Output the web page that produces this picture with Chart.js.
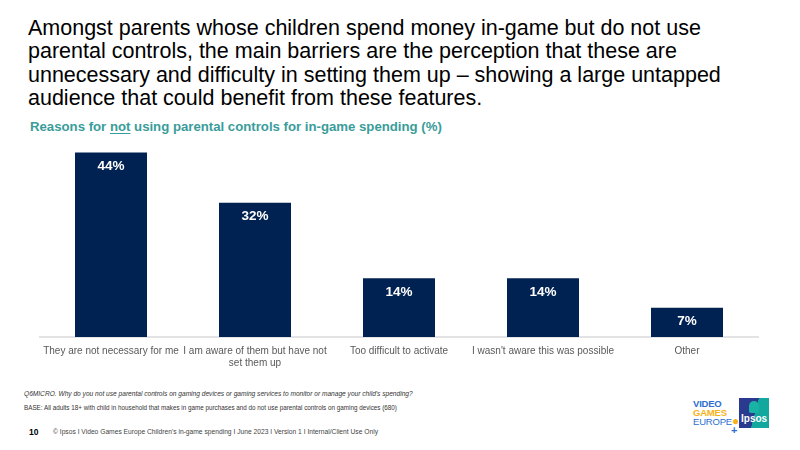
<!DOCTYPE html>
<html>
<head>
<meta charset="utf-8">
<script src="https://cdn.jsdelivr.net/npm/chart.js@4"></script>
<style>
	body { margin: 0; background: #fff; font-family: Arial, "Liberation Sans", sans-serif; }
	#page { position: relative; width: 800px; height: 450px; overflow: hidden; }
	.abs { position: absolute; }
	#title { left: 28px; top: 17px; width: 770px; font-size: 21.5px; line-height: 23.3px; color: #000; white-space: nowrap; }
	#subtitle { left: 30px; top: 119px; font-size: 13.2px; font-weight: bold; color: #3a9c9a; }
	#subtitle u { text-underline-offset: 2px; }
	#chartBox { left: 39px; top: 140px; width: 720px; height: 240px; }
	#q { left: 24px; top: 390px; font-size: 6.6px; font-style: italic; color: #333; }
	#base { left: 24px; top: 404px; font-size: 6.3px; color: #333; }
	#pnum { left: 29px; top: 427px; font-size: 8.5px; font-weight: bold; color: #000; }
	#copy { left: 53px; top: 428px; font-size: 6.7px; color: #444; }
	#vge { left: 693px; top: 399px; font-size: 9.5px; font-weight: bold; line-height: 9px; letter-spacing: -0.2px; }
	#ipsos { left: 739px; top: 398px; width: 30px; height: 30px; background: linear-gradient(105deg, #2a3a8f 0%, #2a3a8f 52%, #13a89e 53%, #13a89e 100%); }
	#ipsos span { position: absolute; left: 2px; bottom: 4px; color: #fff; font-size: 10px; font-weight: bold; }
	#ipsos i { position: absolute; left: 10px; top: 3px; width: 10px; height: 12px; border-radius: 5px 5px 2px 2px; background: #19b3a6; }
</style>
</head>
<body>
<div id="page">
	<div id="title" class="abs">Amongst parents whose children spend money in-game but do not use<br>parental controls, the main barriers are the perception that these are<br>unnecessary and difficulty in setting them up – showing a large untapped<br>audience that could benefit from these features.</div>
	<div id="subtitle" class="abs">Reasons for <u>not</u> using parental controls for in-game spending (%)</div>
	<div id="chartBox" class="abs"><canvas id="myChart"></canvas></div>
	<div id="q" class="abs">Q6MICRO. Why do you not use parental controls on gaming devices or gaming services to monitor or manage your child's spending?</div>
	<div id="base" class="abs">BASE: All adults 18+ with child in household that makes in game purchases and do not use parental controls on gaming devices (680)</div>
	<div id="pnum" class="abs">10</div>
	<div id="copy" class="abs">© Ipsos I Video Games Europe Children's in-game spending I June 2023 I Version 1 I Internal/Client Use Only</div>
	<div id="vge" class="abs"><span style="color:#2c6fd0">VIDEO</span><br><span style="color:#f5b21a">GAMES</span><br><span style="color:#2c6fd0;font-weight:normal">EUROPE</span><span style="color:#f5b21a;font-size:12px">●</span><br><span style="color:#2c6fd0;margin-left:38px;font-size:11px">+</span></div>
	<div id="ipsos" class="abs"><i></i><span>Ipsos</span></div>
</div>
<script>
var categories = [
	'They are not necessary for me',
	['I am aware of them but have not', 'set them up'],
	'Too difficult to activate',
	"I wasn't aware this was possible",
	'Other'
];
var values = [44, 32, 14, 14, 7];
var yMax = 47;

// white value labels inside top of each bar
var barLabels = {
	id: 'barLabels',
	afterDatasetsDraw: function(chart){
		var ctx = chart.ctx;
		var meta = chart.getDatasetMeta(0);
		ctx.save();
		ctx.fillStyle = '#fff';
		ctx.font = 'bold 13.5px Arial, "Liberation Sans", sans-serif';
		ctx.textAlign = 'center';
		ctx.textBaseline = 'middle';
		meta.data.forEach(function(bar, i){
			ctx.fillText(values[i] + '%', bar.x, bar.y + 13.5);
		});
		ctx.restore();
	}
};

var ctx = document.getElementById('myChart').getContext('2d');
new Chart(ctx, {
	type: 'bar',
	data: {
		labels: categories,
		datasets: [{
			data: values,
			backgroundColor: '#002252',
			barPercentage: 0.5,
			categoryPercentage: 1
		}]
	},
	options: {
		responsive: true,
		maintainAspectRatio: false,
		animation: false,
		layout: { padding: 0 },
		plugins: { legend: { display: false }, tooltip: { enabled: false } },
		scales: {
			x: {
				grid: { display: false },
				border: { color: '#e3e3e3', width: 2 },
				ticks: {
					color: '#595959',
					font: { family: 'Arial, "Liberation Sans", sans-serif', size: 10, lineHeight: 1.2 },
					padding: 0,
					maxRotation: 0,
					autoSkip: false
				},
				afterFit: function(s){ s.height = 43; }
			},
			y: { display: false, min: 0, max: yMax }
		}
	},
	plugins: [barLabels]
});
</script>
</body>
</html>
